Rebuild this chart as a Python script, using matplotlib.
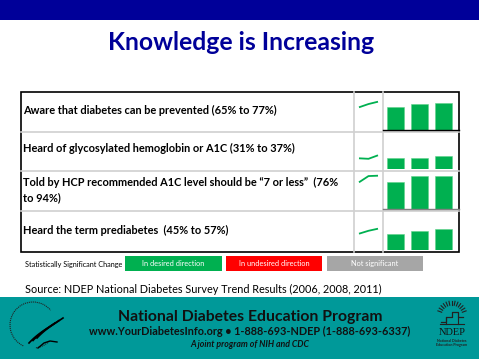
import numpy as np
import matplotlib
matplotlib.use("Agg")
import matplotlib.pyplot as plt
from matplotlib.patches import Rectangle, Arc

W, H = 479, 359

# ---- data ----
title = "Knowledge is Increasing"
row_labels = [
    "Aware that diabetes can be prevented (65% to 77%)",
    "Heard of glycosylated hemoglobin or A1C (31% to 37%)",
    "Told by HCP recommended A1C level should be \u201c7 or less\u201d  (76%\nto 94%)",
    "Heard the term prediabetes  (45% to 57%)",
]
years = ["2006", "2008", "2011"]
values_aware = [65, 72, 77]
values_a1c = [31, 30, 37]
values_level = [76, 93, 94]
values_prediab = [45, 52, 57]
series = [values_aware, values_a1c, values_level, values_prediab]
legend_title = "Statistically Significant Change"
legend_labels = ["In desired direction", "In undesired direction", "Not significant"]
legend_colors = ["#00B050", "#FF0000", "#A6A6A6"]
source = "Source: NDEP National Diabetes Survey Trend Results (2006, 2008, 2011)"
footer_title = "National Diabetes Education Program"
footer_line = "www.YourDiabetesInfo.org \u2022 1-888-693-NDEP (1-888-693-6337)"
footer_joint = "A joint program of NIH and CDC"

GREEN = "#00B050"
NAVY = "#000099"
TEAL = "#009999"
FONT = ["Lato", "DejaVu Sans"]

fig = plt.figure(figsize=(W / 100, H / 100), dpi=100)
bg = fig.add_axes([0, 0, 1, 1])
bg.set_xlim(0, W)
bg.set_ylim(H, 0)
bg.axis("off")


def px_axes(x0, y0, x1, y1):
    return fig.add_axes([x0 / W, 1 - y1 / H, (x1 - x0) / W, (y1 - y0) / H])


# top band & title
bg.add_patch(Rectangle((0, 0), W, 20, color=NAVY, lw=0))
bg.text(241.5, 42, title, ha="center", va="center", fontsize=17.8, fontweight="bold",
        color=NAVY, family=FONT)

# table grid
tx0, tx1 = 21.5, 459
row_edges = [92, 132, 171, 211, 252]
col1, col2 = 354, 383
for y in row_edges[1:-1]:
    bg.plot([tx0, tx1], [y, y], color="#D0D0D0", lw=1.2)
bg.plot([col1, col1], [row_edges[0], row_edges[-1]], color="#D0D0D0", lw=1.2)
bg.plot([col2, col2], [row_edges[0], row_edges[-1]], color="#D0D0D0", lw=1.2)
bg.add_patch(Rectangle((tx0, row_edges[0]), tx1 - tx0, row_edges[-1] - row_edges[0],
                       fill=False, ec="black", lw=1.2))

label_y = [110, 148.5, 190, 230]
for lab, ly in zip(row_labels, label_y):
    bg.text(23.5, ly, lab, ha="left", va="center", fontsize=7.9, fontweight="bold",
            color="black", family=FONT, linespacing=1.4)

# bars: common scale 0.355 px per percent
scale = 0.355
bar_h_px = 36
baselines = [130, 169, 209, 249.5]
spark_y = [(107.3, 101.7), (158.8, 155.3), (182.3, 175.7), (233.7, 228.7)]
for i, vals in enumerate(series):
    b = baselines[i]
    ax = px_axes(383, b - bar_h_px, 459, b)
    ax.bar(range(len(vals)), vals, width=0.71, color=GREEN, edgecolor="#5FD38A", lw=0.4)
    ax.set_xlim(-0.52, 2.65)
    ax.set_ylim(0, bar_h_px / scale)
    ax.set_xticks([])
    ax.set_yticks([])
    for s in ax.spines.values():
        s.set_visible(False)
    if i in (0, 2):
        ax.spines["bottom"].set_visible(True)
        ax.spines["bottom"].set_color("black" if i == 0 else "#808080")
        ax.spines["bottom"].set_linewidth(1.0)
    ax.patch.set_alpha(0)

    # sparkline
    ybot, ytop = spark_y[i]
    sx = px_axes(359, ytop, 378, ybot)
    sx.plot(range(len(vals)), vals, color=GREEN, lw=1.3, solid_capstyle="butt")
    sx.set_xlim(0, len(vals) - 1)
    sx.set_ylim(min(vals), max(vals))
    sx.axis("off")
    for l in sx.lines:
        l.set_clip_on(False)

# legend
bg.text(25, 264.5, legend_title, ha="left", va="center", fontsize=5.2, color="black",
        family=FONT)
boxes = [(125, 221.7), (226, 322.3), (326.7, 422.7)]
for (x0, x1), lab, c in zip(boxes, legend_labels, legend_colors):
    bg.add_patch(Rectangle((x0, 256), x1 - x0, 14.7, color=c, lw=0))
    bg.text((x0 + x1) / 2, 263.5, lab, ha="center", va="center", fontsize=5.3,
            color="white", family=FONT)

bg.text(25, 289.5, source, ha="left", va="center", fontsize=7.8, color="black",
        family=FONT)

# footer band
bg.add_patch(Rectangle((0, 297), W, H - 297, color=TEAL, lw=0))
bg.text(250.5, 316.5, footer_title, ha="center", va="center", fontsize=11.3,
        fontweight="bold", color="#111111", family=FONT)
bg.text(249.5, 331.5, footer_line, ha="center", va="center", fontsize=7.8,
        fontweight="bold", color="#111111", family=FONT)
bg.text(249.5, 344.5, footer_joint, ha="center", va="center", fontsize=6.3,
        fontweight="bold", style="italic", color="#111111", family=FONT)

# HHS logo (approximation)
bg.add_patch(Arc((33, 325), 46, 46, theta1=115, theta2=320, color="#222222", lw=0.8,
                 ls=(0, (1, 0.8))))
bg.add_patch(Arc((33, 325), 46, 46, theta1=45, theta2=85, color="#222222", lw=0.8,
                 ls=(0, (1, 0.8))))
for k in range(3):
    t = np.linspace(0, 1, 25)
    xs = 29 + 4 * k + 26 * t
    ys = 343 - 2.5 * k - 28 * t + 14 * t ** 2 - 6 * t ** 3
    bg.plot(xs, ys, color="black", lw=1.2)
bg.plot([38, 44, 50, 57], [348, 343, 341, 342], color="black", lw=1.0)

# NDEP logo (approximation)
cx = 452
for ang in np.linspace(20, 160, 13):
    a = np.deg2rad(ang)
    bg.plot([cx + 11 * np.cos(a), cx + 15 * np.cos(a)],
            [316 - 11 * np.sin(a), 316 - 15 * np.sin(a)], color="#222222", lw=0.8)
bg.plot([441, 446, 446, 452, 452, 458, 458, 463], [322, 322, 317, 317, 312, 312, 317, 317],
        color="#222222", lw=0.9)
bg.plot([440, 464], [324, 324], color="#222222", lw=0.8)
bg.plot([446, 446], [317, 324], color="#222222", lw=0.8)
bg.plot([458, 458], [317, 324], color="#222222", lw=0.8)
bg.text(452, 332.5, "NDEP", ha="center", va="center", fontsize=7.5,
        family=["Liberation Serif", "DejaVu Serif"], color="#111111")
bg.text(452, 341, "National Diabetes", ha="center", va="center", fontsize=2.6,
        fontweight="bold", color="#222222", family=FONT)
bg.text(452, 345, "Education Program", ha="center", va="center", fontsize=2.6,
        fontweight="bold", color="#222222", family=FONT)

fig.savefig("out.png", dpi=100)
